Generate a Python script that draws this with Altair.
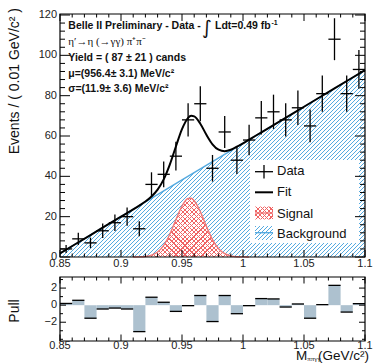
import math
import altair as alt
import pandas as pd

# ---------------- data ----------------
bin_centers = [0.855, 0.865, 0.875, 0.885, 0.895, 0.905, 0.915, 0.925, 0.935, 0.945,
               0.955, 0.965, 0.975, 0.985, 0.995, 1.005, 1.015, 1.025, 1.035, 1.045,
               1.055, 1.065, 1.075, 1.085, 1.095]
counts = [4, 9, 7, 13, 17, 20, 14, 36, 41, 50, 68, 76, 44, 62, 48, 58, 69, 72, 68, 74,
          65, 81, 108, 81, 93]
count_errors = [2.0, 3.0, 2.6, 3.6, 4.1, 4.5, 3.7, 6.0, 6.4, 7.1, 8.2, 8.7, 6.6, 7.9, 6.9,
                7.6, 8.3, 8.5, 8.2, 8.6, 8.1, 9.0, 10.4, 9.0, 9.6]
pulls = [0.2, 0.57, -1.53, -0.45, -0.34, -0.45, -3.1, 0.93, 0.34, -0.73, -0.06, 1.13,
         -1.92, 1.13, -1.0, -0.06, 0.77, 0.73, -0.22, 0.14, -1.53, 0.06, 2.32, -0.81, 0.18]
bin_half = 0.005

fit_x = [0.85, 0.875, 0.90, 0.91, 0.915, 0.92, 0.925, 0.93, 0.935, 0.94, 0.945, 0.95,
         0.955, 0.9575, 0.96, 0.965, 0.97, 0.975, 0.98, 0.985, 0.99, 0.995, 1.00, 1.005,
         1.01, 1.025, 1.05, 1.075, 1.1]
fit_y = [1.8, 10.9, 20.0, 23.6, 25.5, 27.5, 30.0, 33.4, 38.5, 45.8, 54.8, 63.4,
         69.0, 70.0, 69.7, 66.1, 60.6, 55.9, 53.2, 52.5, 53.2, 54.7, 56.4, 58.2,
         60.0, 65.4, 74.5, 83.6, 92.7]
bkg_x = [0.85, 0.90, 0.95, 1.00, 1.05, 1.10]
bkg_y = [1.8, 20.0, 38.2, 56.3, 74.5, 92.7]
sig_x = [0.910, 0.915, 0.920, 0.925, 0.930, 0.935, 0.940, 0.945, 0.950, 0.955, 0.9575,
         0.960, 0.965, 0.970, 0.975, 0.980, 0.985, 0.990, 0.995, 1.000, 1.005]
sig_y = [0.0, 0.07, 0.27, 0.90, 2.49, 5.80, 11.30, 18.46, 25.27, 29.0, 29.1,
         27.89, 22.49, 15.20, 8.61, 4.09, 1.63, 0.54, 0.15, 0.04, 0.0]

x_major = [0.85, 0.9, 0.95, 1.0, 1.05, 1.1]
x_major_labels = ["0.85", "0.9", "0.95", "1", "1.05", "1.1"]
x_minor = [0.86, 0.87, 0.88, 0.89, 0.91, 0.92, 0.93, 0.94, 0.96, 0.97, 0.98, 0.99,
           1.01, 1.02, 1.03, 1.04, 1.06, 1.07, 1.08, 1.09]
y_major = [0, 20, 40, 60, 80, 100, 120]
y_major_labels = ["0", "20", "40", "60", "80", "100", "120"]
y_minor = [4, 8, 12, 16, 24, 28, 32, 36, 44, 48, 52, 56, 64, 68, 72, 76, 84, 88, 92, 96,
           104, 108, 112, 116]
pull_major = [-2, 0, 2]
pull_major_labels = ["\u22122", "0", "2"]
pull_minor = [-4, -3, -1, 1, 3]

legend_labels = ["Data", "Fit", "Signal", "Background"]

# ---------------- layout / style ----------------
W, H = 305, 327              # whole plotting column (main + pull)
MAIN_H = 243                 # main frame height
PULL_TOP, PULL_BOT = 263, 327
Y_TOP = 120.5
P_TOP, P_BOT = 3.3, -4.2
FONT = "Liberation Sans"
BLUE = "#55aae0"
RED = "#f06464"
PULL_FILL = "#adc1cf"

main_dom = [-Y_TOP * (H - MAIN_H) / MAIN_H, Y_TOP]
ppu = (PULL_BOT - PULL_TOP) / (P_TOP - P_BOT)
pull_dom = [P_BOT - (H - PULL_BOT) / ppu, P_TOP + PULL_TOP / ppu]
px_per_main = MAIN_H / Y_TOP

XS = alt.Scale(domain=[0.85, 1.1], nice=False, zero=False)


def ex(f):
    return alt.X(f, type="quantitative", scale=XS, axis=None)


def ey_main(f):
    return alt.Y(f, type="quantitative",
                 scale=alt.Scale(domain=main_dom, nice=False, zero=False), axis=None)


def ey_pull(f):
    return alt.Y(f, type="quantitative",
                 scale=alt.Scale(domain=pull_dom, nice=False, zero=False), axis=None)


def hatch(color, frac, n, w, h, direction):
    r = h / w
    k = (1 + r) / (1 + r * r)
    clear = "rgba(255,255,255,0)"
    stops = []
    for i in range(n):
        a, b, c = i / n, (i + frac) / n, (i + 1) / n
        stops += [{"offset": a, "color": color}, {"offset": b, "color": color},
                  {"offset": b, "color": clear}, {"offset": c, "color": clear}]
    if direction == "/":
        return {"gradient": "linear", "x1": 0, "y1": 0, "x2": k, "y2": k * r, "stops": stops}
    return {"gradient": "linear", "x1": 0, "y1": 1, "x2": k, "y2": 1 - k * r, "stops": stops}


def n_stripes(w, h, period):
    return max(2, round((w + h) / math.sqrt(2) / period))


one = pd.DataFrame({"k": [0]})

# ---------------- tables ----------------
pts = pd.DataFrame({
    "x": bin_centers,
    "lo": [c - bin_half for c in bin_centers],
    "hi": [c + bin_half for c in bin_centers],
    "n": counts,
    "nlo": [c - e for c, e in zip(counts, count_errors)],
    "nhi": [c + e for c, e in zip(counts, count_errors)],
    "pull": pulls,
    "zero": [0] * len(bin_centers),
})
fit_df = pd.DataFrame({"x": fit_x, "y": fit_y})
bkg_df = pd.DataFrame({"x": bkg_x, "y": bkg_y, "zero": [0] * len(bkg_x)})
sig_df = pd.DataFrame({"x": sig_x, "y": sig_y, "zero": [0] * len(sig_x)})

layers = []

# background hatched area
bw, bh = W, max(bkg_y) * px_per_main
layers.append(alt.Chart(bkg_df).mark_area(
    fill=hatch(BLUE, 0.36, n_stripes(bw, bh, 2.83), bw, bh, "/")
).encode(x=ex("x"), y=ey_main("y"), y2=alt.Y2("zero")))

# signal: white base + red cross hatch + outline
sw = (max(sig_x) - min(sig_x)) / 0.25 * W
sh = max(sig_y) * px_per_main
ns = n_stripes(sw, sh, 3.2)
layers.append(alt.Chart(sig_df).mark_area(fill="white", interpolate="monotone").encode(
    x=ex("x"), y=ey_main("y"), y2=alt.Y2("zero")))
for d in ["/", "\\"]:
    layers.append(alt.Chart(sig_df).mark_area(
        fill=hatch(RED, 0.26, ns, sw, sh, d), interpolate="monotone"
    ).encode(x=ex("x"), y=ey_main("y"), y2=alt.Y2("zero")))
layers.append(alt.Chart(sig_df).mark_line(color="#f07a7a", strokeWidth=1.4,
                                          interpolate="monotone").encode(
    x=ex("x"), y=ey_main("y")))

# background outline
layers.append(alt.Chart(bkg_df).mark_line(color=BLUE, strokeWidth=1.4).encode(
    x=ex("x"), y=ey_main("y")))

# fit
layers.append(alt.Chart(fit_df).mark_line(color="black", strokeWidth=2,
                                          interpolate="monotone").encode(
    x=ex("x"), y=ey_main("y")))

# data crosses
layers.append(alt.Chart(pts).mark_rule(color="black", strokeWidth=1.3).encode(
    x=ex("x"), y=ey_main("nlo"), y2=alt.Y2("nhi")))
layers.append(alt.Chart(pts).mark_rule(color="black", strokeWidth=1.3).encode(
    x=ex("lo"), x2=alt.X2("hi"), y=ey_main("n")))

# ---------------- legend ----------------
def vrect(x0, x1, y0, y1, **mk):
    return alt.Chart(one).mark_rect(**mk).encode(
        x=alt.value(x0), x2=alt.value(x1), y=alt.value(y0), y2=alt.value(y1))


def vrule(x0, x1, y0, y1, **mk):
    return alt.Chart(one).mark_rule(**mk).encode(
        x=alt.value(x0), x2=alt.value(x1), y=alt.value(y0), y2=alt.value(y1))


def vtext(txt, x, y, size, **mk):
    return alt.Chart(one).mark_text(text=txt, fontSize=size, **mk).encode(
        x=alt.value(x), y=alt.value(y))


layers.append(vrect(190, 299, 146, 229, fill="white"))
LX0, LX1 = 195, 213
layers.append(vrule(LX0, LX1, 157.7, 157.7, color="black", strokeWidth=1.3))
layers.append(vrule(204, 204, 151, 164.5, color="black", strokeWidth=1.3))
layers.append(vrule(LX0, LX1, 178.3, 178.3, color="black", strokeWidth=2))
lw, lh = LX1 - LX0, 12.6
layers.append(vrect(LX0, LX1, 192.7, 205.3, fill="white"))
for d in ["/", "\\"]:
    layers.append(vrect(LX0, LX1, 192.7, 205.3,
                        fill=hatch(RED, 0.26, n_stripes(lw, lh, 3.2), lw, lh, d)))
layers.append(vrule(LX0, LX1, 199, 199, color="#f07a7a", strokeWidth=1.4))
layers.append(vrect(LX0, LX1, 212, 226,
                    fill=hatch(BLUE, 0.36, n_stripes(lw, 14, 2.83), lw, 14, "/")))
layers.append(vrule(LX0, LX1, 218.7, 218.7, color=BLUE, strokeWidth=1.4))
for lab, yb in zip(legend_labels, [161, 182, 204.3, 224.3]):
    layers.append(vtext(lab, 217, yb, 13, font=FONT, align="left",
                        baseline="alphabetic", color="#111"))

# ---------------- pull panel ----------------
layers.append(alt.Chart(pts).mark_rect(fill=PULL_FILL).encode(
    x=ex("lo"), x2=alt.X2("hi"), y=ey_pull("pull"), y2=alt.Y2("zero")))
layers.append(alt.Chart(pts).mark_rule(color="black", strokeWidth=1.3).encode(
    x=ex("lo"), x2=alt.X2("hi"), y=ey_pull("pull")))

# ---------------- frames and ticks ----------------
layers.append(vrect(0, W, 0, MAIN_H, fill="white", fillOpacity=0, stroke="black",
                    strokeWidth=1.2))
layers.append(vrect(0, W, PULL_TOP, PULL_BOT, fill="white", fillOpacity=0,
                    stroke="black", strokeWidth=1.2))


def xticks(values, y0, y1):
    return alt.Chart(pd.DataFrame({"v": values})).mark_rule(
        color="black", strokeWidth=1).encode(x=ex("v"), y=alt.value(y0), y2=alt.value(y1))


def yticks(values, yfn, x0, x1):
    return alt.Chart(pd.DataFrame({"v": values})).mark_rule(
        color="black", strokeWidth=1).encode(y=yfn("v"), x=alt.value(x0), x2=alt.value(x1))


layers += [
    xticks(x_major, MAIN_H, MAIN_H - 7), xticks(x_major, 0, 7),
    xticks(x_minor, MAIN_H, MAIN_H - 3.5), xticks(x_minor, 0, 3.5),
    xticks(x_major, PULL_BOT, PULL_BOT - 6.5), xticks(x_major, PULL_TOP, PULL_TOP + 6.5),
    xticks(x_minor, PULL_BOT, PULL_BOT - 3.5), xticks(x_minor, PULL_TOP, PULL_TOP + 3.5),
    yticks(y_major, ey_main, 0, 10), yticks(y_major, ey_main, W, W - 10),
    yticks(y_minor, ey_main, 0, 5), yticks(y_minor, ey_main, W, W - 5),
    yticks(pull_major, ey_pull, 0, 6), yticks(pull_major, ey_pull, W, W - 6),
    yticks(pull_minor, ey_pull, 0, 3), yticks(pull_minor, ey_pull, W, W - 3),
]

# ---------------- tick labels ----------------
TICK_COLOR = "#222"
layers.append(alt.Chart(pd.DataFrame({"v": x_major, "t": x_major_labels})).mark_text(
    fontSize=11, font=FONT, align="center", baseline="middle", color=TICK_COLOR).encode(
    x=ex("v"), y=alt.value(MAIN_H + 6.5), text="t:N"))
layers.append(alt.Chart(pd.DataFrame({"v": x_major, "t": x_major_labels})).mark_text(
    fontSize=11, font=FONT, align="center", baseline="middle", color=TICK_COLOR).encode(
    x=ex("v"), y=alt.value(PULL_BOT + 5), text="t:N"))
layers.append(alt.Chart(pd.DataFrame({"v": y_major, "t": y_major_labels})).mark_text(
    fontSize=11, font=FONT, align="right", baseline="middle", color=TICK_COLOR).encode(
    y=ey_main("v"), x=alt.value(-3), text="t:N"))
layers.append(alt.Chart(pd.DataFrame({"v": pull_major, "t": pull_major_labels})).mark_text(
    fontSize=11, font=FONT, align="right", baseline="middle", color=TICK_COLOR).encode(
    y=ey_pull("v"), x=alt.value(-3), text="t:N"))

# ---------------- titles & annotations ----------------
layers.append(vtext("Events / ( 0.01 GeV/c\u00b2 )", -45, -6, 14, font=FONT, angle=270,
                    align="right", baseline="middle", color="#111"))
layers.append(vtext("Pull", -45, 297, 14, font=FONT, angle=270, align="center",
                    baseline="middle", color="#111"))
layers.append(vtext("M", 236, 345.5, 13.5, font=FONT, align="left", baseline="alphabetic",
                    color="#111"))
layers.append(vtext("\u03c0\u03c0\u03b3\u03b3", 247.3, 347, 7, font="Liberation Serif",
                    align="left", baseline="alphabetic", color="#111"))
layers.append(vtext("(GeV/c\u00b2)", 309, 345.5, 13.5, font=FONT, align="right",
                    baseline="alphabetic", color="#111"))

AX = 8.3
layers.append(vtext("Belle II Preliminary - Data -", AX, 15.3, 10.5, font=FONT,
                    fontWeight="bold", align="left", baseline="alphabetic", color="#111"))
layers.append(vtext("\u222b", 142, 20, 19, font="DejaVu Sans", align="left",
                    baseline="alphabetic", color="#111"))
layers.append(vtext("Ldt=0.49 fb", 155, 15.3, 10.5, font=FONT, fontWeight="bold",
                    align="left", baseline="alphabetic", color="#111"))
layers.append(vtext("-1", 211.5, 10.5, 7, font=FONT, fontWeight="bold", align="left",
                    baseline="alphabetic", color="#111"))
layers.append(vtext("\u03b7\u2032\u2192\u03b7 (\u2192\u03b3\u03b3) \u03c0\u207a\u03c0\u207b", AX,
                    30.5, 11, font="Liberation Serif", align="left", baseline="alphabetic",
                    color="#111"))
layers.append(vtext("Yield = ( 87 \u00b1 21 ) cands", AX, 47, 10.5, font=FONT,
                    fontWeight="bold", align="left", baseline="alphabetic", color="#111"))
layers.append(vtext("\u03bc=(956.4\u00b1 3.1) MeV/c\u00b2", AX, 63, 10.5, font=FONT,
                    fontWeight="bold", align="left", baseline="alphabetic", color="#111"))
layers.append(vtext("\u03c3=(11.9\u00b1 3.6) MeV/c\u00b2", AX, 78, 10.5, font=FONT,
                    fontWeight="bold", align="left", baseline="alphabetic", color="#111"))

chart = alt.layer(*layers).resolve_scale(y="independent").properties(
    width=W, height=H,
    padding={"left": 60, "top": 14, "right": 8, "bottom": 22},
    autosize=alt.AutoSizeParams(type="none"),
).configure_view(stroke=None)

chart.save("out.html", embed_options={"renderer": "svg", "actions": False})
